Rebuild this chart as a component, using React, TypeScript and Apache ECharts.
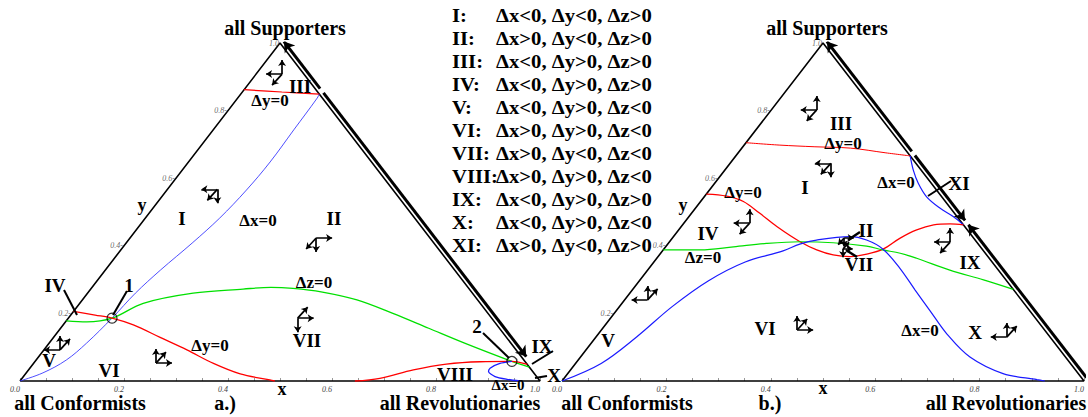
import React, { useEffect, useRef } from 'react';
import * as echarts from 'echarts';

// ---------- legend (region -> signs of the changes) ----------
const regionNames = ['I', 'II', 'III', 'IV', 'V', 'VI', 'VII', 'VIII', 'IX', 'X', 'XI'];
const regionConditions = [
  'Δx<0, Δy<0, Δz>0',
  'Δx>0, Δy<0, Δz>0',
  'Δx<0, Δy>0, Δz>0',
  'Δx<0, Δy>0, Δz>0',
  'Δx<0, Δy>0, Δz<0',
  'Δx>0, Δy>0, Δz<0',
  'Δx>0, Δy<0, Δz<0',
  'Δx>0, Δy>0, Δz<0',
  'Δx<0, Δy>0, Δz>0',
  'Δx<0, Δy>0, Δz<0',
  'Δx>0, Δy<0, Δz>0',
];

// ---------- axis ticks ----------
const edgeTickValues = [0.2, 0.4, 0.6, 0.8, 1.0];

// ---------- nullclines, ternary coordinates [x (revolutionaries), y (supporters)] ----------
// panel a.)
const aDyZeroTop = [[0, 0.862], [0.076, 0.855], [0.151, 0.849]];
const aDxZero = [[0, 0], [0.032, 0.024], [0.058, 0.062], [0.072, 0.112], [0.084, 0.186], [0.092, 0.26], [0.106, 0.328], [0.127, 0.408], [0.143, 0.482], [0.153, 0.565], [0.157, 0.648], [0.155, 0.743], [0.153, 0.837], [0.151, 0.849]];
const aDzZero = [[0, 0.178], [0.041, 0.175], [0.084, 0.186], [0.122, 0.23], [0.203, 0.26], [0.293, 0.272], [0.344, 0.277], [0.388, 0.274], [0.447, 0.264], [0.528, 0.24], [0.617, 0.2], [0.708, 0.156], [0.799, 0.112], [0.917, 0.058], [0.959, 0.041]];
const aDyZeroLow = [[0, 0.206], [0.047, 0.195], [0.084, 0.186], [0.135, 0.166], [0.205, 0.129], [0.275, 0.092], [0.346, 0.052], [0.413, 0.021], [0.479, 0.003], [0.49, 0]];
const aDyZeroRight = [[0.644, 0], [0.688, 0.008], [0.74, 0.033], [0.795, 0.05], [0.856, 0.057], [0.917, 0.058], [0.951, 0.049]];
const aDxZeroLoop = [[0.917, 0.058], [0.897, 0.052], [0.885, 0.038], [0.887, 0.028], [0.907, 0.013], [0.934, 0.005], [0.962, 0]];
const aFixedPoints = [[0.084, 0.186], [0.917, 0.058]];
// edge flows on x+y=1 : [y start, y end]
const aEdgeFlows = [[0.858, 0.997], [0.845, 0.065]];

// panel b.)
const bDyZeroTop = [[0, 0.705], [0.067, 0.698], [0.138, 0.693], [0.208, 0.689], [0.283, 0.675], [0.334, 0.666]];
const bDxZeroTop = [[0.334, 0.666], [0.361, 0.624], [0.39, 0.585], [0.426, 0.545], [0.469, 0.511], [0.507, 0.486], [0.538, 0.462]];
const bDyZeroMid = [[0, 0.553], [0.042, 0.547], [0.082, 0.531], [0.131, 0.496], [0.183, 0.457], [0.25, 0.412], [0.294, 0.388], [0.333, 0.373], [0.368, 0.368], [0.398, 0.376], [0.42, 0.39], [0.436, 0.422], [0.456, 0.447], [0.481, 0.462], [0.511, 0.465], [0.538, 0.462]];
const bDzZero = [[0, 0.388], [0.071, 0.388], [0.13, 0.397], [0.188, 0.407], [0.25, 0.412], [0.315, 0.409], [0.384, 0.399], [0.42, 0.388], [0.459, 0.378], [0.498, 0.363], [0.579, 0.328], [0.658, 0.299], [0.729, 0.271]];
const bDxZero = [[0, 0], [0.049, 0.052], [0.078, 0.131], [0.101, 0.22], [0.132, 0.296], [0.175, 0.352], [0.231, 0.385], [0.253, 0.405], [0.279, 0.417], [0.338, 0.427], [0.375, 0.417], [0.42, 0.39], [0.48, 0.334], [0.542, 0.269], [0.602, 0.207], [0.668, 0.139], [0.746, 0.071], [0.834, 0.022], [0.908, 0.004], [0.925, 0]];
const bEdgeFlows = [[0.672, 0.997], [0.66, 0.468], [0.003, 0.455]];

// direction glyphs: region, ternary position, size
const aGlyphRegions = ['III', 'I', 'II', 'VII', 'VI', 'V'];
const aGlyphAt = [[0.05, 0.908], [0.096, 0.567], [0.358, 0.423], [0.441, 0.186], [0.235, 0.053], [0.031, 0.092]];
const bGlyphRegions = ['III', 'I', 'IV', 'V', 'VI', 'X', 'IX', 'II', 'VII'];
const bGlyphAt = [[0.087, 0.802], [0.193, 0.644], [0.126, 0.467], [0.044, 0.24], [0.375, 0.151], [0.787, 0.13], [0.538, 0.411], [0.329, 0.423], [0.343, 0.391]];
const bGlyphSize = [1, 1, 1, 1, 1, 1, 1, 0.6, 0.6];

// ---------- helpers ----------
const SERIF = '"Liberation Serif", "DejaVu Serif", serif';
const PANELS = [
  { left: 20, top: 43, width: 520, height: 338 },
  { left: 562, top: 43, width: 522, height: 338 },
];
const cart = (p: number[]) => [p[0] + p[1] / 2, p[1]];
const signsOf = (r: string) => {
  const c = regionConditions[regionNames.indexOf(r)];
  return c.split(',').map((s) => (s.includes('>') ? 1 : -1));
};

function curve(pts: number[][], g: number, color: string, width: number, smooth = 0.35) {
  return {
    type: 'line', xAxisIndex: g, yAxisIndex: g, data: pts.map(cart), smooth,
    symbol: 'none', clip: false, silent: true, z: 3, lineStyle: { color, width },
  };
}

function edgeFlow(flows: number[][], g: number) {
  const { width: W, height: H } = PANELS[g];
  const dX = (4 * 0.793) / W, dY = (4 * 0.61) / H;
  return {
    type: 'lines', coordinateSystem: 'cartesian2d', xAxisIndex: g, yAxisIndex: g, z: 4, silent: true,
    symbol: ['none', 'arrow'], symbolSize: 10,
    lineStyle: { color: '#000', width: 3, opacity: 1 },
    data: flows.map(([y0, y1]) => {
      const a = cart([1 - y0, y0]), b = cart([1 - y1, y1]);
      return { coords: [[a[0] + dX, a[1] + dY], [b[0] + dX, b[1] + dY]] };
    }),
  };
}

function glyphs(regs: string[], at: number[][], g: number, sizes?: number[]) {
  const { width: W, height: H } = PANELS[g];
  const data: any[] = [];
  regs.forEach((r, i) => {
    const [sx, sy, sz] = signsOf(r);
    const k = sizes ? sizes[i] : 1;
    const o = cart(at[i]);
    data.push({ coords: [o, [o[0] + (sx * 16 * k) / W, o[1]]] });
    data.push({ coords: [o, [o[0], o[1] + (sy * 14 * k) / H]] });
    data.push({ coords: [o, [o[0] - (sz * 10 * k) / W, o[1] - (sz * 11 * k) / H]] });
  });
  return {
    type: 'lines', coordinateSystem: 'cartesian2d', xAxisIndex: g, yAxisIndex: g, z: 5, silent: true,
    symbol: ['none', 'arrow'], symbolSize: 6,
    lineStyle: { color: '#000', width: 1.7, opacity: 1 }, data,
  };
}

function frame(g: number) {
  return {
    type: 'line', xAxisIndex: g, yAxisIndex: g, symbol: 'none', clip: false, silent: true, z: 2,
    data: [[0, 0], [1, 0], [0, 1], [0, 0]].map(cart), lineStyle: { color: '#000', width: 1.6 },
  };
}

function edgeLabels(g: number) {
  return {
    type: 'scatter', xAxisIndex: g, yAxisIndex: g, symbolSize: 0, silent: true, clip: false,
    data: edgeTickValues.map((v) => [...cart([0, v]), v]),
    label: {
      show: true, position: 'left', distance: 1, fontSize: 8, fontStyle: 'italic', fontFamily: SERIF, color: '#444',
      formatter: (p: any) => p.value[2].toFixed(1) + (p.value[2] < 1 ? '-' : ''),
    },
  };
}

function fixedPoints(g: number) {
  return {
    type: 'scatter', xAxisIndex: g, yAxisIndex: g, symbol: 'circle', symbolSize: 10, z: 6, silent: true,
    data: aFixedPoints.map(cart),
    itemStyle: { color: 'rgba(0,0,0,0)', borderColor: '#000', borderWidth: 1.3 },
  };
}

const txt = (text: string, x: number, y: number, size: number, align = 'center', sx = 1) => ({
  type: 'text', x, y, scaleX: sx, z: 20, silent: true,
  style: {
    text, fontSize: size, fontWeight: 'bold', fontFamily: SERIF, fill: '#000',
    align, verticalAlign: 'middle', textAlign: align, textVerticalAlign: 'middle',
  },
});
const seg = (x1: number, y1: number, x2: number, y2: number, w = 2) => ({
  type: 'line', z: 20, silent: true, shape: { x1, y1, x2, y2 }, style: { stroke: '#000', lineWidth: w },
});

export default function App() {
  const ref = useRef<HTMLDivElement>(null);
  useEffect(() => {
    const chart = echarts.init(ref.current!, null, { renderer: 'svg' });
    const xAxes = [0, 1].map((g) => ({
      gridIndex: g, type: 'value', min: 0, max: 1, interval: 0.05,
      axisLine: { show: false }, splitLine: { show: false },
      axisTick: { show: true, inside: true, length: 3, lineStyle: { color: '#999', width: 1 } },
      axisLabel: {
        show: true, fontSize: 8, fontStyle: 'italic', fontFamily: SERIF, color: '#444', margin: 4, align: 'right',
        formatter: (v: number) => (Math.abs(v * 5 - Math.round(v * 5)) < 1e-6 ? v.toFixed(1) : ''),
      },
    }));
    const yAxes = [0, 1].map((g) => ({ gridIndex: g, type: 'value', min: 0, max: 1, show: false }));

    const RED = '#ff0000', GREEN = '#00e000', BLUE = '#1a1aff';
    const series: any[] = [
      frame(0), frame(1),
      curve(aDyZeroTop, 0, RED, 1.2),
      curve(aDxZero, 0, '#3a3aff', 0.9),
      curve(aDzZero, 0, GREEN, 1.3),
      curve(aDyZeroLow, 0, RED, 1.3),
      curve(aDyZeroRight, 0, RED, 1.3),
      curve(aDxZeroLoop, 0, BLUE, 1.3, 0.25),
      curve(bDyZeroTop, 1, RED, 1),
      curve(bDxZeroTop, 1, BLUE, 1.2),
      curve(bDyZeroMid, 1, RED, 1.3),
      curve(bDzZero, 1, GREEN, 1.2),
      curve(bDxZero, 1, BLUE, 1.2),
      fixedPoints(0),
      edgeFlow(aEdgeFlows, 0), edgeFlow(bEdgeFlows, 1),
      glyphs(aGlyphRegions, aGlyphAt, 0),
      glyphs(bGlyphRegions, bGlyphAt, 1, bGlyphSize),
      edgeLabels(0), edgeLabels(1),
    ];

    const legend: any[] = [];
    regionNames.forEach((r, i) => {
      const y = 15.5 + 23.05 * i;
      legend.push(txt(r + ':', 452, y, 18, 'left', 1.15));
      legend.push(txt(regionConditions[i], 496, y, 18, 'left', 1.15));
    });

    const R = 19, D = 17;
    const graphic: any[] = [
      ...legend,
      // panel a
      txt('all Supporters', 285, 28, 20), txt('all Conformists', 80, 403, 20),
      txt('all Revolutionaries', 460, 403, 20), txt('a.)', 225, 403, 20),
      txt('x', 282, 389, 18), txt('y', 142, 205, 18),
      txt('III', 300, 86, R), txt('I', 182, 218, R), txt('II', 334, 218, R), txt('IV', 55, 285, R),
      txt('VII', 307, 340, R), txt('V', 49, 360, R), txt('VI', 109, 370, R), txt('VIII', 455, 374, R),
      txt('IX', 542, 346, R), txt('X', 554, 375, R),
      txt('Δy=0', 270, 100, D), txt('Δx=0', 258, 220, D), txt('Δz=0', 314, 282, D),
      txt('Δy=0', 210, 345, D), txt('Δx=0', 508, 385, 15),
      txt('1', 129, 285, 19), txt('2', 477, 326, 19),
      seg(64, 290, 77, 315), seg(127, 291, 113, 315), seg(483, 333, 509, 358),
      seg(532, 364, 553, 351), seg(535, 378, 547, 376),
      // panel b
      txt('all Supporters', 827, 28, 20), txt('all Conformists', 627, 403, 20),
      txt('all Revolutionaries', 1006, 403, 20), txt('b.)', 770, 403, 20),
      txt('x', 823, 388, 18), txt('y', 683, 205, 18),
      txt('III', 841, 123, R), txt('I', 805, 187, R), txt('XI', 959, 183, R), txt('IV', 708, 233, R),
      txt('II', 866, 230, R), txt('VII', 859, 264, R), txt('IX', 970, 262, R), txt('V', 608, 340, R),
      txt('VI', 765, 328, R), txt('X', 975, 332, R),
      txt('Δy=0', 843, 143, D), txt('Δx=0', 896, 182, D), txt('Δy=0', 743, 192, D),
      txt('Δz=0', 703, 257, D), txt('Δx=0', 920, 330, D),
      seg(928, 196, 951, 181), seg(860, 232, 848, 240, 2.5), seg(857, 257, 846, 250, 2.5),
    ];

    chart.setOption({
      animation: false,
      backgroundColor: '#fff',
      grid: PANELS,
      xAxis: xAxes,
      yAxis: yAxes,
      series,
      graphic,
    });
    return () => chart.dispose();
  }, []);
  return (
    <div
      ref={ref}
      style={{ position: 'fixed', left: 0, top: 0, width: 1088, height: 417, background: '#fff' }}
    />
  );
}
